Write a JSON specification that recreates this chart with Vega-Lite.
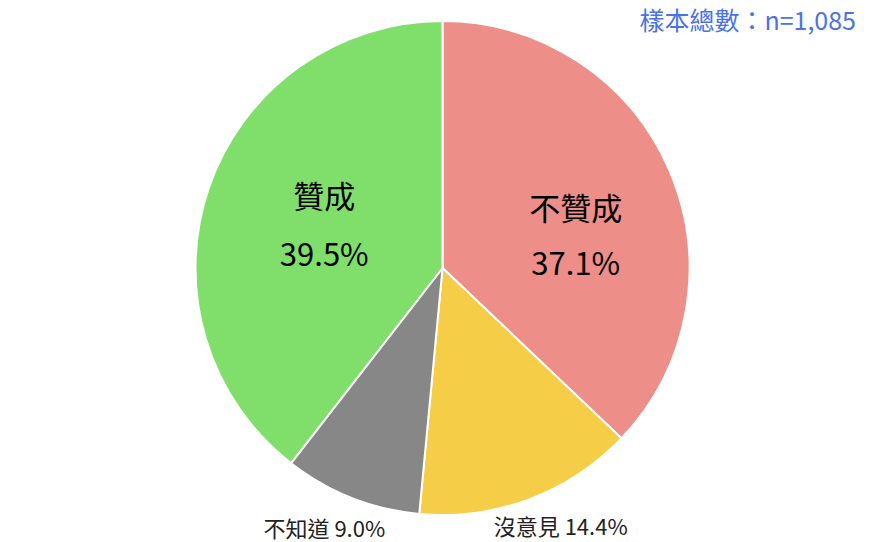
{
  "$schema": "https://vega.github.io/schema/vega-lite/v6.json",
  "width": 885,
  "height": 536,
  "autosize": {"type": "none"},
  "padding": {"top": 0, "bottom": 6, "left": 0, "right": 0},
  "background": "white",
  "title": {
    "text": "樣本總數：n=1,085",
    "anchor": "end",
    "orient": "top",
    "baseline": "top",
    "offset": -35,
    "dx": -29,
    "font": "Noto Sans CJK TC",
    "fontSize": 25,
    "fontWeight": "normal",
    "color": "#4A72E6"
  },
  "data": {
    "values": [
      {"label": "不贊成", "pct": 37.1, "idx": 1, "inner": "不贊成\n37.1%", "outer": ""},
      {"label": "沒意見", "pct": 14.4, "idx": 2, "inner": "", "outer": "沒意見 14.4%"},
      {"label": "不知道", "pct": 9.0, "idx": 3, "inner": "", "outer": "不知道 9.0%"},
      {"label": "贊成", "pct": 39.5, "idx": 4, "inner": "贊成\n39.5%", "outer": ""}
    ]
  },
  "encoding": {
    "theta": {"field": "pct", "type": "quantitative", "stack": true},
    "order": {"field": "idx", "type": "quantitative"}
  },
  "layer": [
    {
      "mark": {"type": "arc", "outerRadius": 247, "stroke": "white", "strokeWidth": 2},
      "encoding": {
        "color": {
          "field": "label",
          "type": "nominal",
          "scale": {
            "domain": ["不贊成", "沒意見", "不知道", "贊成"],
            "range": ["#EE8E89", "#F6CD46", "#878787", "#80DF6A"]
          },
          "legend": null
        }
      }
    },
    {
      "mark": {"type": "text", "radius": 125, "dy": -29, "font": "Noto Sans CJK TC", "fontSize": 31, "lineBreak": "\n", "lineHeight": 58, "baseline": "middle", "align": "center", "color": "black"},
      "encoding": {
        "text": {"condition": {"test": "datum.label == '贊成'", "field": "inner"}, "value": ""}
      }
    },
    {
      "mark": {"type": "text", "radius": 145, "dy": 0, "font": "Noto Sans CJK TC", "fontSize": 31, "lineBreak": "\n", "lineHeight": 55, "baseline": "middle", "align": "center", "color": "black"},
      "encoding": {
        "text": {"condition": {"test": "datum.label == '不贊成'", "field": "inner"}, "value": ""}
      }
    },
    {
      "mark": {"type": "text", "radius": 283, "dx": -14, "dy": -1, "font": "Noto Sans CJK TC", "fontSize": 22, "baseline": "middle", "align": "center", "color": "#222222"},
      "encoding": {
        "text": {"condition": {"test": "datum.label == '不知道'", "field": "outer"}, "value": ""}
      }
    },
    {
      "mark": {"type": "text", "radius": 283, "dx": 19, "dy": -5, "font": "Noto Sans CJK TC", "fontSize": 22, "baseline": "middle", "align": "center", "color": "#222222"},
      "encoding": {
        "text": {"condition": {"test": "datum.label == '沒意見'", "field": "outer"}, "value": ""}
      }
    }
  ]
}
